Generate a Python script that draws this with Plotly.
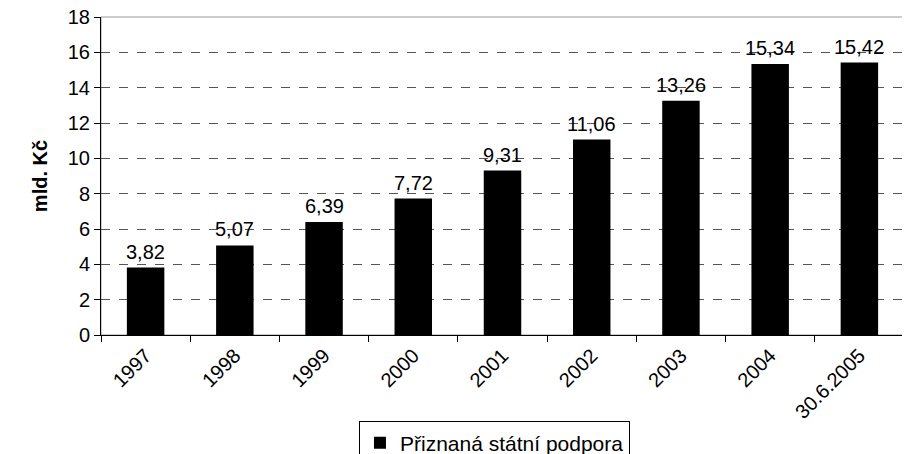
import plotly.graph_objects as go

years = ["1997", "1998", "1999", "2000", "2001", "2002", "2003", "2004", "30.6.2005"]
support = [3.82, 5.07, 6.39, 7.72, 9.31, 11.06, 13.26, 15.34, 15.42]
labels = [f"{v:.2f}".replace(".", ",") for v in support]

fig = go.Figure(go.Bar(
    x=years,
    y=support,
    name="Přiznaná státní podpora",
    marker=dict(color="black", line=dict(width=0)),
    showlegend=True,
))

# value labels, Czech decimal comma (x given as category index)
for i, (val, lab) in enumerate(zip(support, labels)):
    fig.add_annotation(
        x=i, y=val, text=lab, showarrow=False,
        yanchor="bottom", yshift=3,
        font=dict(size=20, color="black"),
    )

fig.update_layout(
    width=910,
    height=454,
    plot_bgcolor="white",
    paper_bgcolor="white",
    font=dict(family="Liberation Sans, Arial, sans-serif", color="black"),
    margin=dict(l=93, r=14, t=9, b=127, autoexpand=False),
    bargap=0.58,
    showlegend=True,
    legend=dict(
        orientation="h",
        x=0.49, xanchor="center",
        y=-0.272, yanchor="top",
        bordercolor="black", borderwidth=1,
        font=dict(size=21),
        itemwidth=30,
    ),
    xaxis=dict(
        type="category",
        tickangle=-45,
        tickfont=dict(size=20),
        showline=True, linecolor="black", linewidth=1,
        ticks="outside", tickson="boundaries", ticklen=6, tickcolor="black",
        showgrid=False,
        automargin=False,
        ticklabeloverflow="allow",
    ),
    yaxis=dict(
        title=dict(text="<b>mld. Kč</b>", font=dict(size=20), standoff=14),
        range=[0, 18],
        dtick=2,
        tickfont=dict(size=20),
        showline=True, linecolor="black", linewidth=1,
        ticks="outside", ticklen=6, tickcolor="black",
        showgrid=True, gridcolor="#555555", griddash="dash", gridwidth=1,
        zeroline=False,
        automargin=False,
        ticklabeloverflow="allow",
    ),
    shapes=[dict(
        type="rect", xref="paper", yref="paper", x0=0, x1=1, y0=0, y1=1,
        line=dict(color="#999999", width=1), layer="below",
    )],
)

fig.write_html("out.html")
